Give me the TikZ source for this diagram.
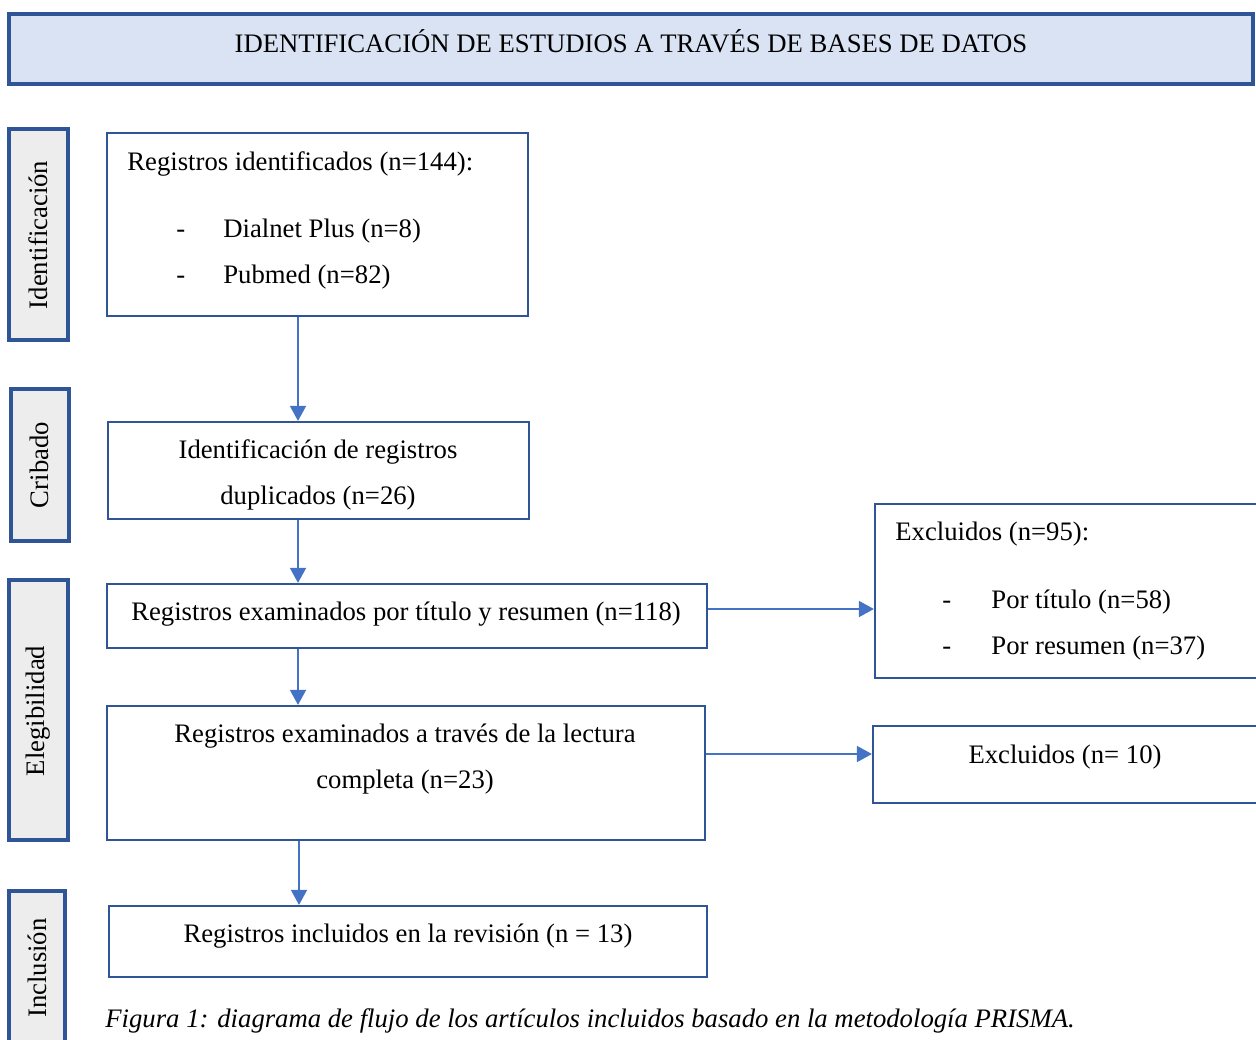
\documentclass[tikz,border=0pt]{standalone}
\usepackage{fontspec}
\setmainfont{Liberation Serif}
\usetikzlibrary{arrows.meta,fit}
\definecolor{hdrfill}{HTML}{DAE3F3}
\definecolor{darkblue}{HTML}{2F5597}
\definecolor{sidefill}{HTML}{EDEDED}
\definecolor{arrblue}{HTML}{4472C4}
\begin{document}
\begin{tikzpicture}[x=0.5pt,y=-0.5pt,
  font=\fontsize{13.35}{15}\selectfont,
  header/.style={draw=darkblue,line width=2pt,fill=hdrfill,inner sep=0pt},
  side/.style={draw=darkblue,line width=1.8pt,fill=sidefill,inner sep=0pt},
  box/.style={draw=darkblue,line width=1.1pt,fill=white,inner sep=0pt},
  txt/.style={inner sep=0pt},
  arr/.style={draw=arrblue,line width=0.8pt,-{Triangle[length=7.5pt,width=8pt]}}]
\useasboundingbox (0,0) rectangle (1256,1039);
\clip (0,0) rectangle (1256,1039);
% header
\node[header,fit={(9,14) (1253,84)}] (hdr) {};
\node[txt] (hdrt) at (631,41) {IDENTIFICACIÓN DE ESTUDIOS A TRAVÉS DE BASES DE DATOS};
% side labels
\node[side,fit={(9,129) (68,340)}] (s1) {};
\node[txt,rotate=90] (s1t) at (38,235) {Identificación};
\node[side,fit={(11,389) (69,541)}] (s2) {};
\node[txt,rotate=90] (s2t) at (39,465) {Cribado};
\node[side,fit={(9,580) (68,840)}] (s3) {};
\node[txt,rotate=90] (s3t) at (38,711) {Elegibilidad};
\node[side,fit={(9,891) (65,1060)}] (s4) {};
\node[txt,rotate=90] (s4t) at (37,968) {Inclusión};
% main boxes
\node[box,fit={(107,133) (528,316)}] (b1) {};
\node[txt,anchor=west] (b1a) at (127,164) {Registros identificados (n=144):};
\node[txt,anchor=west] (b1b) at (176,231) {-\vphantom{()}};
\node[txt,anchor=west] (b1c) at (223,231) {Dialnet Plus (n=8)};
\node[txt,anchor=west] (b1d) at (176,277) {-\vphantom{()}};
\node[txt,anchor=west] (b1e) at (223,277) {Pubmed (n=82)};

\node[box,fit={(108,422) (529,519)}] (b2) {};
\node[txt] (b2a) at (318,452) {Identificación de registros};
\node[txt] (b2b) at (318,498) {duplicados (n=26)};

\node[box,fit={(107,584) (707,648)}] (b3) {};
\node[txt] (b3a) at (406,614) {Registros examinados por título y resumen (n=118)};

\node[box,fit={(107,706) (705,840)}] (b4) {};
\node[txt] (b4a) at (405,736) {Registros examinados a través de la lectura};
\node[txt] (b4b) at (405,782) {completa (n=23)};

\node[box,fit={(109,906) (707,977)}] (b5) {};
\node[txt] (b5a) at (408,936) {Registros incluidos en la revisión (n = 13)};

% right boxes
\node[box,fit={(875,504) (1270,678)}] (r1) {};
\node[txt,anchor=west] (r1a) at (895,534) {Excluidos (n=95):};
\node[txt,anchor=west] (r1b) at (942,602) {-\vphantom{()}};
\node[txt,anchor=west] (r1c) at (991,602) {Por título (n=58)};
\node[txt,anchor=west] (r1d) at (942,648) {-\vphantom{()}};
\node[txt,anchor=west] (r1e) at (991,648) {Por resumen (n=37)};

\node[box,fit={(873,726) (1270,803)}] (r2) {};
\node[txt] (r2a) at (1065,757) {Excluidos (n= 10)};

% caption
\node[txt,anchor=west,font=\fontsize{13.35}{15}\selectfont\itshape] (cap) at (105,1021) {Figura 1: diagrama de flujo de los artículos incluidos basado en la metodología PRISMA.};

% connectors
\coordinate (ax) at (298,0);
\coordinate (ax2) at (299,0);
\coordinate (ay1) at (0,609);
\coordinate (ay2) at (0,754);
\draw[arr] (b1.south -| ax) -- (b2.north -| ax);
\draw[arr] (b2.south -| ax) -- (b3.north -| ax);
\draw[arr] (b3.south -| ax) -- (b4.north -| ax);
\draw[arr] (b4.south -| ax2) -- (b5.north -| ax2);
\draw[arr] (b3.east |- ay1) -- (r1.west |- ay1);
\draw[arr] (b4.east |- ay2) -- (r2.west |- ay2);
\end{tikzpicture}
\end{document}
